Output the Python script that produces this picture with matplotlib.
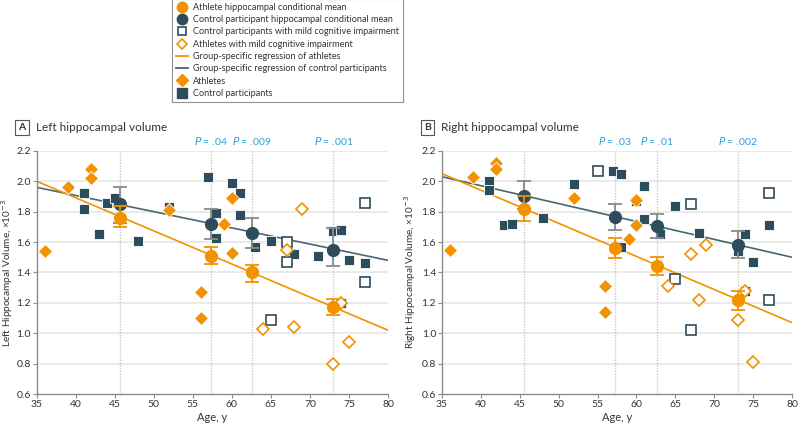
import matplotlib
matplotlib.use("Agg")
import matplotlib.pyplot as plt
from matplotlib.lines import Line2D

plt.rcParams['font.family'] = ['Lato', 'DejaVu Sans']

# ---------------- data ----------------
# Panel A (left)
athA_age = [36, 39, 42, 42, 52, 56, 56, 59, 60, 60]
athA_val = [1.54, 1.96, 2.08, 2.02, 1.81, 1.27, 1.10, 1.72, 1.89, 1.53]
athMciA_age = [64, 67, 68, 69, 73, 74, 75]
athMciA_val = [1.03, 1.55, 1.04, 1.82, 0.80, 1.20, 0.94]
ctlA_age = [41, 41, 43, 44, 45, 48, 52, 57, 58, 58, 60, 61, 61, 63, 65, 68, 71, 73, 74, 75, 77, 74]
ctlA_val = [1.92, 1.82, 1.65, 1.86, 1.89, 1.61, 1.83, 2.03, 1.79, 1.63, 1.99, 1.92, 1.78, 1.57,
            1.61, 1.52, 1.51, 1.67, 1.68, 1.48, 1.46, 1.20]
ctlMciA_age = [65, 67, 67, 77, 77]
ctlMciA_val = [1.09, 1.60, 1.47, 1.86, 1.34]

meanA_age = [45.7, 57.3, 62.6, 73.0]
athMeanA = [1.76, 1.51, 1.40, 1.17]
athLoA = [1.70, 1.455, 1.34, 1.12]
athHiA = [1.84, 1.57, 1.45, 1.225]
ctlMeanA = [1.85, 1.72, 1.66, 1.55]
ctlLoA = [1.725, 1.62, 1.56, 1.445]
ctlHiA = [1.96, 1.82, 1.76, 1.69]
regA_age = [35, 80]
regA_ath = [2.00, 1.02]
regA_ctl = [1.96, 1.48]
pA_age = [57.3, 62.6, 73.0]
pA_txt = [".04", ".009", ".001"]

# Panel B (right)
athB_age = [36, 39, 42, 42, 52, 56, 56, 59, 60, 60]
athB_val = [1.55, 2.03, 2.12, 2.08, 1.89, 1.31, 1.14, 1.62, 1.71, 1.88]
athMciB_age = [64, 67, 68, 69, 73, 74, 75]
athMciB_val = [1.31, 1.52, 1.22, 1.58, 1.09, 1.28, 0.81]
ctlB_age = [41, 41, 43, 44, 48, 52, 57, 58, 58, 60, 61, 61, 63, 65, 68, 73, 74, 75, 77, 74]
ctlB_val = [2.00, 1.94, 1.71, 1.72, 1.76, 1.98, 2.07, 2.05, 1.57, 1.87, 1.97, 1.75, 1.65, 1.84,
            1.66, 1.54, 1.65, 1.47, 1.71, 1.28]
ctlMciB_age = [55, 65, 67, 67, 77, 77]
ctlMciB_val = [2.07, 1.36, 1.85, 1.02, 1.92, 1.22]

meanB_age = [45.6, 57.2, 62.6, 73.0]
athMeanB = [1.815, 1.564, 1.445, 1.218]
athLoB = [1.74, 1.496, 1.385, 1.154]
athHiB = [1.902, 1.628, 1.504, 1.28]
ctlMeanB = [1.902, 1.768, 1.705, 1.583]
ctlLoB = [1.815, 1.682, 1.625, 1.496]
ctlHiB = [1.999, 1.852, 1.788, 1.671]
regB_age = [35, 80]
regB_ath = [2.05, 1.07]
regB_ctl = [2.03, 1.50]
pB_age = [57.2, 62.6, 73.0]
pB_txt = [".03", ".01", ".002"]

xticks = [35, 40, 45, 50, 55, 60, 65, 70, 75, 80]
yticks = [0.6, 0.8, 1.0, 1.2, 1.4, 1.6, 1.8, 2.0, 2.2]

ORANGE = "#F39200"
NAVY = "#2E4D5C"
CTL_LINE = "#4B6673"
GRID = "#E6E6E6"
VLINE = "#C8C8C8"
AXCOL = "#8C8C8C"
PBLUE = "#2A9FD6"
TXT = "#333333"

FS = 7.5

fig = plt.figure(figsize=(8, 4.28), dpi=100)


def panel(rect, letter, title, ylabel, ylab_x, d):
    ax = fig.add_axes(rect)
    ax.set_xlim(35, 80)
    ax.set_ylim(0.6, 2.2)
    ax.set_xticks(xticks)
    ax.set_yticks(yticks)
    ax.set_yticklabels([f"{v:.1f}" for v in yticks])
    for y in yticks[1:]:
        ax.axhline(y, color=GRID, lw=1.2, zorder=0)
    for a in d['mean_age']:
        ax.axvline(a, color=VLINE, lw=1.0, ls=(0, (1, 1)), zorder=0.5)
    for s in ['top', 'right']:
        ax.spines[s].set_visible(False)
    for s in ['left', 'bottom']:
        ax.spines[s].set_color(AXCOL)
        ax.spines[s].set_linewidth(1.0)
    ax.tick_params(colors=AXCOL, labelcolor=TXT, labelsize=FS, length=3, width=0.8, pad=1.2)
    ax.set_xlabel("Age, y", fontsize=8, color=TXT, labelpad=2)
    ax.set_ylabel(ylabel, fontsize=7.2, color=TXT)
    ax.yaxis.set_label_coords(ylab_x, 0.5)

    # regression lines
    ax.plot(d['reg_age'], d['reg_ctl'], color=CTL_LINE, lw=1.2, zorder=2)
    ax.plot(d['reg_age'], d['reg_ath'], color=ORANGE, lw=1.2, zorder=2)

    # points
    ax.plot(d['ctl_age'], d['ctl_val'], 's', ms=7, color=NAVY, mec="white", mew=0.6, zorder=3)
    ax.plot(d['ctlmci_age'], d['ctlmci_val'], 's', ms=6.5, mfc="white", mec=NAVY, mew=1.2, zorder=3)
    ax.plot(d['ath_age'], d['ath_val'], 'D', ms=7, color=ORANGE, mec="white", mew=0.6, zorder=4)
    ax.plot(d['athmci_age'], d['athmci_val'], 'D', ms=6, mfc="white", mec=ORANGE, mew=1.2, zorder=4)

    # conditional means with error bars
    lo = [m - l for m, l in zip(d['ctl_mean'], d['ctl_lo'])]
    hi = [h - m for m, h in zip(d['ctl_mean'], d['ctl_hi'])]
    ax.errorbar(d['mean_age'], d['ctl_mean'], yerr=[lo, hi], fmt='o', ms=8.5, color=NAVY,
                ecolor="#8A8A8A", elinewidth=1.3, capsize=5, capthick=1.3, zorder=5)
    lo = [m - l for m, l in zip(d['ath_mean'], d['ath_lo'])]
    hi = [h - m for m, h in zip(d['ath_mean'], d['ath_hi'])]
    ax.errorbar(d['mean_age'], d['ath_mean'], yerr=[lo, hi], fmt='o', ms=8.5, color=ORANGE,
                ecolor=ORANGE, elinewidth=1.3, capsize=5, capthick=1.3, zorder=6)

    # P values
    for a, t in zip(d['p_age'], d['p_txt']):
        ax.text(a, 2.225, r"$\it{P}$ = " + t, color=PBLUE, fontsize=7.5,
                ha='center', va='bottom')

    # panel title
    bx0 = rect[0] - 0.028
    fig.text(bx0 + 0.0095, 0.702, letter, fontsize=7.5, fontweight='bold', color=TXT,
             ha='center', va='center',
             bbox=dict(boxstyle='square,pad=0.3', fc='white', ec='#555555', lw=0.8))
    fig.text(bx0 + 0.027, 0.702, title, fontsize=8.5, color=TXT, ha='left', va='center')
    return ax


dA = dict(mean_age=meanA_age, reg_age=regA_age, reg_ctl=regA_ctl, reg_ath=regA_ath,
          ctl_age=ctlA_age, ctl_val=ctlA_val, ctlmci_age=ctlMciA_age, ctlmci_val=ctlMciA_val,
          ath_age=athA_age, ath_val=athA_val, athmci_age=athMciA_age, athmci_val=athMciA_val,
          ctl_mean=ctlMeanA, ctl_lo=ctlLoA, ctl_hi=ctlHiA,
          ath_mean=athMeanA, ath_lo=athLoA, ath_hi=athHiA, p_age=pA_age, p_txt=pA_txt)
dB = dict(mean_age=meanB_age, reg_age=regB_age, reg_ctl=regB_ctl, reg_ath=regB_ath,
          ctl_age=ctlB_age, ctl_val=ctlB_val, ctlmci_age=ctlMciB_age, ctlmci_val=ctlMciB_val,
          ath_age=athB_age, ath_val=athB_val, athmci_age=athMciB_age, athmci_val=athMciB_val,
          ctl_mean=ctlMeanB, ctl_lo=ctlLoB, ctl_hi=ctlHiB,
          ath_mean=athMeanB, ath_lo=athLoB, ath_hi=athHiB, p_age=pB_age, p_txt=pB_txt)

panel([0.046, 0.0794, 0.439, 0.568], "A", "Left hippocampal volume",
      "Left Hippocampal Volume, ×10$^{-3}$", -0.062, dA)
panel([0.5525, 0.0794, 0.4375, 0.568], "B", "Right hippocampal volume",
      "Right Hippocampal Volume, ×10$^{-3}$", -0.068, dB)

# legend
handles = [
    Line2D([], [], marker='o', ls='none', ms=7.5, color=ORANGE),
    Line2D([], [], marker='o', ls='none', ms=7.5, color=NAVY),
    Line2D([], [], marker='s', ls='none', ms=6, mfc='white', mec=NAVY, mew=1.2),
    Line2D([], [], marker='D', ls='none', ms=5.5, mfc='white', mec=ORANGE, mew=1.2),
    Line2D([], [], color=ORANGE, lw=1.3),
    Line2D([], [], color=CTL_LINE, lw=1.3),
    Line2D([], [], marker='D', ls='none', ms=6.5, color=ORANGE),
    Line2D([], [], marker='s', ls='none', ms=6.5, color=NAVY),
]
labels = [
    "Athlete hippocampal conditional mean",
    "Control participant hippocampal conditional mean",
    "Control participants with mild cognitive impairment",
    "Athletes with mild cognitive impairment",
    "Group-specific regression of athletes",
    "Group-specific regression of control participants",
    "Athletes",
    "Control participants",
]
leg = fig.legend(handles, labels, loc='upper left', bbox_to_anchor=(0.215, 1.002),
                 fontsize=6.6, frameon=True, fancybox=False, edgecolor='#777777',
                 handlelength=1.3, handletextpad=0.6, labelspacing=0.36,
                 borderpad=0.4, borderaxespad=0.0)
leg.get_frame().set_linewidth(0.8)
for t in leg.get_texts():
    t.set_color(TXT)

fig.savefig("out.png", dpi=100)
